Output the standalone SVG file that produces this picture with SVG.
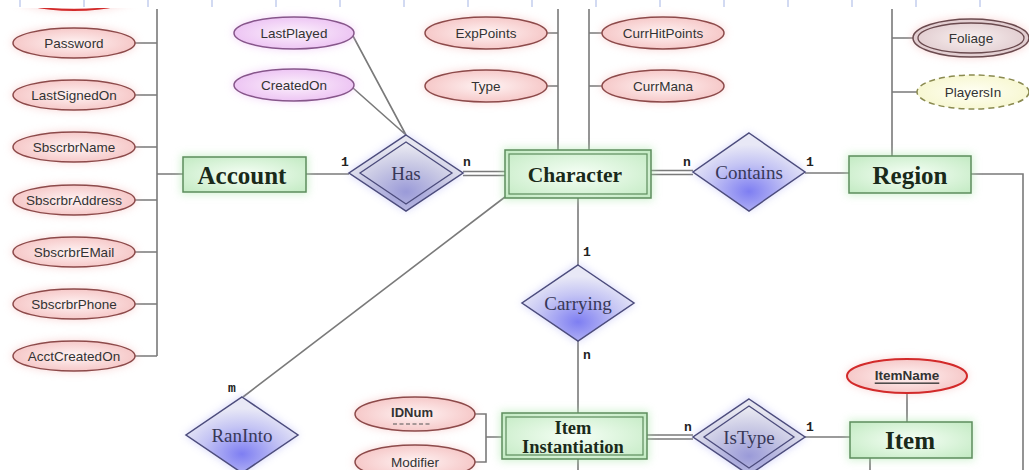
<svg xmlns="http://www.w3.org/2000/svg" width="1029" height="470" viewBox="0 0 1029 470">
<defs>
<radialGradient id="gEnt" cx="0.5" cy="0.5" r="0.7"><stop offset="0" stop-color="#f6fff6"/><stop offset="1" stop-color="#c2eac2"/></radialGradient>
<radialGradient id="gAttr" cx="0.5" cy="0.5" r="0.6"><stop offset="0" stop-color="#fff4f4"/><stop offset="1" stop-color="#f4c0c0"/></radialGradient>
<radialGradient id="gPur" cx="0.5" cy="0.5" r="0.6"><stop offset="0" stop-color="#fcf2fc"/><stop offset="1" stop-color="#eabcf2"/></radialGradient>
<radialGradient id="gYel" cx="0.5" cy="0.5" r="0.6"><stop offset="0" stop-color="#fffff4"/><stop offset="1" stop-color="#f6f6cc"/></radialGradient>
<radialGradient id="gFol" cx="0.5" cy="0.5" r="0.6"><stop offset="0" stop-color="#f8f0f0"/><stop offset="1" stop-color="#dcc4c8"/></radialGradient>
<radialGradient id="gRel" cx="0.5" cy="0.75" r="0.6"><stop offset="0" stop-color="#7e7ef2"/><stop offset="0.6" stop-color="#c4c4f4"/><stop offset="1" stop-color="#e8e8f6"/></radialGradient>
<radialGradient id="gRel2" cx="0.5" cy="0.75" r="0.6"><stop offset="0" stop-color="#9a9ad8"/><stop offset="0.6" stop-color="#c8c8e4"/><stop offset="1" stop-color="#e6e6f0"/></radialGradient>
<filter id="blur" x="-30%" y="-30%" width="160%" height="160%"><feGaussianBlur stdDeviation="4"/></filter>
<style>
.ln{stroke:#7a7a7a;stroke-width:1.6;fill:none}
.dbl{stroke:#7a7a7a;stroke-width:1.4;fill:none}
.ent{fill:url(#gEnt);stroke:#5d8d5d;stroke-width:1.5}
.entIn{fill:none;stroke:#5d8d5d;stroke-width:1.2}
.glowG{fill:#a8e6a8;opacity:0.55;filter:url(#blur)}
.glowR{fill:#f4b0b0;opacity:0.5;filter:url(#blur)}
.glowP{fill:#eab0f4;opacity:0.5;filter:url(#blur)}
.glowB{fill:#a0a0f4;opacity:0.45;filter:url(#blur)}
.attr{fill:url(#gAttr);stroke:#8c4a4a;stroke-width:1.5}
.key{fill:url(#gAttr);stroke:#d22a2a;stroke-width:2}
.pur{fill:url(#gPur);stroke:#86568a;stroke-width:1.5}
.rel{fill:url(#gRel);stroke:#4c4c7c;stroke-width:1.5}
.rel2{fill:url(#gRel2);stroke:#4c4c7c;stroke-width:1.5}
.relIn{fill:none;stroke:#4c4c7c;stroke-width:1.3}
.at{font-family:"Liberation Sans",Arial,sans-serif;font-size:13.5px;fill:#333;text-anchor:middle;dominant-baseline:central}
.atk{font-family:"Liberation Sans",Arial,sans-serif;font-size:13.5px;font-weight:bold;fill:#333;text-anchor:middle;dominant-baseline:central}
.et{font-family:"Liberation Serif","Times New Roman",serif;font-weight:bold;font-size:25px;fill:#1a2a1a;text-anchor:middle;dominant-baseline:central}
.etc{font-family:"Liberation Serif","Times New Roman",serif;font-weight:bold;font-size:21.5px;fill:#1a2a1a;text-anchor:middle;dominant-baseline:central}
.eti{font-family:"Liberation Serif","Times New Roman",serif;font-weight:bold;font-size:18.5px;fill:#1a2a1a;text-anchor:middle;dominant-baseline:central}
.rt{font-family:"Liberation Serif","Times New Roman",serif;font-size:19px;fill:#383858;text-anchor:middle;dominant-baseline:central}
.cd{font-family:"Liberation Mono","Courier New",monospace;font-weight:bold;font-size:13px;fill:#222;text-anchor:middle}
.tick{stroke:#b4c2ea;stroke-width:1.2}
</style>
</defs>
<rect width="1029" height="470" fill="#ffffff"/>
<g id="attr-top-key"><ellipse class="glowR" cx="74" cy="-5" rx="62" ry="16"/><ellipse class="key" cx="74" cy="-5" rx="61" ry="15"/></g>
<rect x="0" y="0" width="1029" height="8" fill="#ffffff"/>
<g id="ticks">
<line class="tick" x1="20" y1="0" x2="20" y2="7"/><line class="tick" x1="84" y1="0" x2="84" y2="7"/><line class="tick" x1="148" y1="0" x2="148" y2="7"/><line class="tick" x1="212" y1="0" x2="212" y2="7"/><line class="tick" x1="276" y1="0" x2="276" y2="7"/><line class="tick" x1="340" y1="0" x2="340" y2="7"/><line class="tick" x1="404" y1="0" x2="404" y2="7"/><line class="tick" x1="468" y1="0" x2="468" y2="7"/><line class="tick" x1="532" y1="0" x2="532" y2="7"/><line class="tick" x1="596" y1="0" x2="596" y2="7"/><line class="tick" x1="660" y1="0" x2="660" y2="7"/><line class="tick" x1="724" y1="0" x2="724" y2="7"/><line class="tick" x1="788" y1="0" x2="788" y2="7"/><line class="tick" x1="852" y1="0" x2="852" y2="7"/><line class="tick" x1="916" y1="0" x2="916" y2="7"/><line class="tick" x1="980" y1="0" x2="980" y2="7"/>
</g>
<g id="connectors">
<path class="ln" d="M157 9V356M135 43H157M135 95H157M135 147H157M135 200H157M135 252H157M135 304H157M135 356H157M157 174H183"/>
<path class="ln" d="M306 174H349"/>
<path class="dbl" d="M463 171.5H505M463 175.5H505"/>
<path class="dbl" d="M651 170.5H693M651 174.5H693"/>
<path class="ln" d="M805 173H849"/>
<path class="ln" d="M971 174H1023V470"/>
<path class="ln" d="M892 9V156M892 38H913M892 92H917"/>
<path class="ln" d="M558 9V150M547 33H558M547 86H558"/>
<path class="ln" d="M589 9V150M589 33H602M589 86H602"/>
<path class="ln" d="M353 36L406 135M353 88L406 135"/>
<path class="ln" d="M578 198V265M578 341V413"/>
<path class="ln" d="M505 197L243 397"/>
<path class="ln" d="M475 414H486V462H475M486 437H502"/>
<path class="dbl" d="M647 435H693M647 439H693"/>
<path class="ln" d="M805 437H850"/>
<path class="ln" d="M907 393V422"/>
<path class="ln" d="M870 458V470M578 459V470"/>
</g>
<g id="cardinalities">
<text class="cd" x="345" y="166">1</text><text class="cd" x="467" y="166">n</text>
<text class="cd" x="687" y="166">n</text><text class="cd" x="810" y="166">1</text>
<text class="cd" x="587" y="256">1</text><text class="cd" x="587" y="359">n</text>
<text class="cd" x="232" y="392">m</text>
<text class="cd" x="688" y="431">n</text><text class="cd" x="810" y="431">1</text>
</g>
<g id="attr-password"><ellipse class="glowR" cx="74" cy="43" rx="62" ry="16"/><ellipse class="attr" cx="74" cy="43" rx="61" ry="15"/><text class="at" x="74" y="43">Password</text></g>
<g id="attr-lastsignedon"><ellipse class="glowR" cx="74" cy="95" rx="62" ry="16"/><ellipse class="attr" cx="74" cy="95" rx="61" ry="15"/><text class="at" x="74" y="95">LastSignedOn</text></g>
<g id="attr-sbscrbrname"><ellipse class="glowR" cx="74" cy="147" rx="62" ry="16"/><ellipse class="attr" cx="74" cy="147" rx="61" ry="15"/><text class="at" x="74" y="147">SbscrbrName</text></g>
<g id="attr-sbscrbraddress"><ellipse class="glowR" cx="74" cy="200" rx="62" ry="16"/><ellipse class="attr" cx="74" cy="200" rx="61" ry="15"/><text class="at" x="74" y="200">SbscrbrAddress</text></g>
<g id="attr-sbscrbremail"><ellipse class="glowR" cx="74" cy="252" rx="62" ry="16"/><ellipse class="attr" cx="74" cy="252" rx="61" ry="15"/><text class="at" x="74" y="252">SbscrbrEMail</text></g>
<g id="attr-sbscrbrphone"><ellipse class="glowR" cx="74" cy="304" rx="62" ry="16"/><ellipse class="attr" cx="74" cy="304" rx="61" ry="15"/><text class="at" x="74" y="304">SbscrbrPhone</text></g>
<g id="attr-acctcreatedon"><ellipse class="glowR" cx="74" cy="356" rx="62" ry="16"/><ellipse class="attr" cx="74" cy="356" rx="61" ry="15"/><text class="at" x="74" y="356">AcctCreatedOn</text></g>
<g id="attr-lastplayed"><ellipse class="glowP" cx="294" cy="33" rx="61" ry="17"/><ellipse class="pur" cx="294" cy="33" rx="60" ry="16"/><text class="at" x="294" y="33">LastPlayed</text></g>
<g id="attr-createdon"><ellipse class="glowP" cx="294" cy="85" rx="61" ry="17"/><ellipse class="pur" cx="294" cy="85" rx="60" ry="16"/><text class="at" x="294" y="85">CreatedOn</text></g>
<g id="attr-exppoints"><ellipse class="glowR" cx="486" cy="33" rx="62" ry="17"/><ellipse class="attr" cx="486" cy="33" rx="61" ry="16"/><text class="at" x="486" y="33">ExpPoints</text></g>
<g id="attr-type"><ellipse class="glowR" cx="486" cy="86" rx="62" ry="17"/><ellipse class="attr" cx="486" cy="86" rx="61" ry="16"/><text class="at" x="486" y="86">Type</text></g>
<g id="attr-currhitpoints"><ellipse class="glowR" cx="663" cy="33" rx="62" ry="17"/><ellipse class="attr" cx="663" cy="33" rx="61" ry="16"/><text class="at" x="663" y="33">CurrHitPoints</text></g>
<g id="attr-currmana"><ellipse class="glowR" cx="663" cy="86" rx="62" ry="17"/><ellipse class="attr" cx="663" cy="86" rx="61" ry="16"/><text class="at" x="663" y="86">CurrMana</text></g>
<g id="attr-foliage"><ellipse class="glowR" cx="971" cy="38" rx="59" ry="20"/><ellipse fill="url(#gFol)" stroke="#6a4a4e" stroke-width="1.5" cx="971" cy="38" rx="58" ry="19"/><ellipse fill="none" stroke="#6a4a4e" stroke-width="1.3" cx="971" cy="38" rx="53" ry="15"/><text class="at" x="971" y="38">Foliage</text></g>
<g id="attr-playersin"><ellipse fill="url(#gYel)" stroke="#8a8a50" stroke-width="1.5" stroke-dasharray="6 4" cx="973" cy="92" rx="56" ry="17"/><text class="at" x="973" y="92">PlayersIn</text></g>
<g id="attr-itemname"><ellipse class="glowR" cx="907" cy="376" rx="61" ry="18"/><ellipse class="key" cx="907" cy="376" rx="60" ry="17"/><text class="atk" x="907" y="375" text-decoration="underline">ItemName</text></g>
<g id="attr-idnum"><ellipse class="glowR" cx="415" cy="414" rx="61" ry="18"/><ellipse class="attr" stroke="#7a2a2a" stroke-width="1.8" cx="415" cy="414" rx="60" ry="17"/><text class="atk" x="412" y="412" style="font-size:13px">IDNum</text><line x1="393" y1="424" x2="431" y2="424" stroke="#555" stroke-width="1.2" stroke-dasharray="4 2.5"/></g>
<g id="attr-modifier"><ellipse class="glowR" cx="415" cy="462" rx="61" ry="18"/><ellipse class="attr" cx="415" cy="462" rx="60" ry="17"/><text class="at" x="415" y="462">Modifier</text></g>
<g id="ent-account"><rect class="glowG" x="181" y="155" width="127" height="39"/><rect class="ent" x="183" y="157" width="123" height="35"/><text class="et" x="242" y="175">Account</text></g>
<g id="ent-character"><rect class="glowG" x="503" y="148" width="150" height="52"/><rect class="ent" x="505" y="150" width="146" height="48"/><rect class="entIn" x="509" y="154" width="138" height="40"/><text class="etc" x="575" y="175">Character</text></g>
<g id="ent-region"><rect class="glowG" x="847" y="154" width="126" height="41"/><rect class="ent" x="849" y="156" width="122" height="37"/><text class="et" x="910" y="175">Region</text></g>
<g id="ent-item-instantiation"><rect class="glowG" x="500" y="411" width="149" height="50"/><rect class="ent" x="502" y="413" width="145" height="46"/><rect class="entIn" x="506" y="417" width="137" height="38"/><text class="eti" x="573" y="428">Item</text><text class="eti" x="573" y="447">Instantiation</text></g>
<g id="ent-item"><rect class="glowG" x="848" y="420" width="126" height="40"/><rect class="ent" x="850" y="422" width="122" height="36"/><text class="et" x="910" y="440">Item</text></g>
<g id="rel-has"><polygon class="glowB" points="406,135 464,173 406,211 348,173"/><polygon class="rel2" points="406,135 463,173 406,211 349,173"/><polygon class="relIn" points="406,142 452,173 406,204 360,173"/><text class="rt" x="406" y="173">Has</text></g>
<g id="rel-contains"><polygon class="glowB" points="749,133 806,172 749,211 692,172"/><polygon class="rel" points="749,133 805,172 749,211 693,172"/><text class="rt" x="749" y="172">Contains</text></g>
<g id="rel-carrying"><polygon class="glowB" points="578,264 635,303 578,342 521,303"/><polygon class="rel" points="578,265 634,303 578,341 522,303"/><text class="rt" x="578" y="303">Carrying</text></g>
<g id="rel-raninto"><polygon class="glowB" points="242,396 299,435 242,474 185,435"/><polygon class="rel" points="242,397 298,435 242,473 186,435"/><text class="rt" x="242" y="435">RanInto</text></g>
<g id="rel-istype"><polygon class="glowB" points="749,398 806,437 749,476 692,437"/><polygon class="rel2" points="749,399 805,437 749,475 693,437"/><polygon class="relIn" points="749,406 794,437 749,468 704,437"/><text class="rt" x="749" y="437">IsType</text></g>
</svg>
